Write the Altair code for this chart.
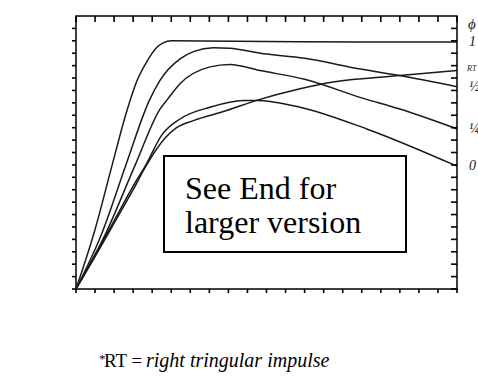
import altair as alt
import pandas as pd

# ---- data ----
phi1_x = [0.0, 0.1, 0.19, 0.266, 0.318, 0.371, 0.42, 0.46, 0.5, 1.0, 1.5, 2.0]
phi1_y = [0.0, 0.48, 1.0, 1.43, 1.67, 1.83, 1.94, 1.985, 2.0, 1.995, 1.99, 1.99]

half_x = [0.0, 0.136, 0.262, 0.385, 0.44, 0.546, 0.62, 0.72, 0.808, 0.966, 1.2, 1.5, 1.7, 2.0]
half_y = [0.0, 0.45, 1.0, 1.52, 1.68, 1.855, 1.915, 1.944, 1.94, 1.90, 1.86, 1.77, 1.72, 1.63]

quarter_x = [0.0, 0.157, 0.311, 0.441, 0.481, 0.546, 0.703, 0.808, 0.966, 1.2, 1.5, 1.7, 2.0]
quarter_y = [0.0, 0.45, 1.0, 1.45, 1.53, 1.654, 1.79, 1.81, 1.76, 1.69, 1.54, 1.45, 1.29]

zero_x = [0.0, 0.1, 0.2, 0.3, 0.367, 0.45, 0.546, 0.703, 0.877, 0.95, 1.176, 1.526, 2.0]
zero_y = [0.0, 0.27, 0.55, 0.83, 1.0, 1.24, 1.37, 1.465, 1.52, 1.52, 1.465, 1.29, 0.99]

rt_x = [0.0, 0.1, 0.2, 0.3, 0.367, 0.47, 0.528, 0.616, 0.791, 0.948, 1.176, 1.35, 1.7, 2.0]
rt_y = [0.0, 0.26, 0.53, 0.8, 0.99, 1.22, 1.30, 1.357, 1.438, 1.52, 1.614, 1.668, 1.72, 1.76]

series_names = ["1", "½", "¼", "0", "RT"]
series_x = [phi1_x, half_x, quarter_x, zero_x, rt_x]
series_y = [phi1_y, half_y, quarter_y, zero_y, rt_y]

x_ticks = [0.0, 0.1, 0.2, 0.3, 0.4, 0.5, 0.6, 0.7, 0.8, 0.9, 1.0,
           1.1, 1.2, 1.3, 1.4, 1.5, 1.6, 1.7, 1.8, 1.9, 2.0]
y_ticks = [0.0, 0.1, 0.2, 0.3, 0.4, 0.5, 0.6, 0.7, 0.8, 0.9, 1.0,
           1.1, 1.2, 1.3, 1.4, 1.5, 1.6, 1.7, 1.8, 1.9, 2.0, 2.1]

# ---- tables ----
rows = []
for name, xs, ys in zip(series_names, series_x, series_y):
    for i, (a, b) in enumerate(zip(xs, ys)):
        rows.append({"series": name, "x": a, "y": b, "order": i})
lines_df = pd.DataFrame(rows)

end_df = pd.DataFrame({
    "series": series_names,
    "x": [xs[-1] for xs in series_x],
    "y": [ys[-1] for ys in series_y],
})
main_lbl = end_df[end_df["series"] != "RT"]
rt_lbl = end_df[end_df["series"] == "RT"]

W, H = 381, 273
FONT = "DejaVu Sans"
INK = "#1a1a1a"

xscale = alt.Scale(domain=[0, 2], nice=False, zero=False)
yscale = alt.Scale(domain=[0, 2.2], nice=False, zero=False)

IS_MAJOR = "abs(datum.value * 2 - round(datum.value * 2)) < 0.001"
LABEL_EXPR = IS_MAJOR + " ? format(datum.value, '.1f') : ''"

xaxis = alt.Axis(orient="bottom", values=x_ticks, labelExpr=LABEL_EXPR,
                 tickSize={"condition": {"test": IS_MAJOR, "value": 5}, "value": 4},
                 labelPadding=4, labelFont=FONT, labelFontSize=12, labelColor="#333",
                 domainColor="black", domainWidth=1.5, tickColor="black", tickWidth=1.4,
                 grid=False, title="θ = tp/Ts", titleFont=FONT, titleFontSize=15,
                 titleFontWeight="normal", titleColor="#333", titleX=177, titleY=34,
                 titleBaseline="top", titleAlign="center", labelOverlap=False)
yaxis = alt.Axis(orient="left", values=y_ticks, labelExpr=LABEL_EXPR,
                 tickSize={"condition": {"test": IS_MAJOR, "value": 7}, "value": 4},
                 labelPadding=1, labelFont=FONT, labelFontSize=12, labelColor="#333",
                 domainColor="black", domainWidth=1.5, tickColor="black", tickWidth=1.4,
                 grid=False, title="Impact Factor IF", titleFont=FONT, titleFontSize=14,
                 titleFontWeight="normal", titleColor="#333", titleX=-51, titleY=140,
                 titleAngle=270, titleAlign="center", titleBaseline="middle",
                 labelOverlap=False)

X = alt.X("x:Q", scale=xscale, axis=xaxis)
Y = alt.Y("y:Q", scale=yscale, axis=yaxis)
Xn = alt.X("x:Q", scale=xscale, axis=None)
Yn = alt.Y("y:Q", scale=yscale, axis=None)

lines = alt.Chart(lines_df).mark_line(strokeWidth=1.5, interpolate="monotone").encode(
    x=X, y=Y,
    color=alt.Color("series:N", scale=alt.Scale(range=[INK]), legend=None),
    order="order:Q",
)

# inward ticks on the top and right frame edges, plus outward minor ticks
ydf = pd.DataFrame({"y": y_ticks})
xdf = pd.DataFrame({"x": x_ticks})
right_ticks = alt.Chart(ydf).mark_rule(color="black", strokeWidth=1.6).encode(
    y=Yn, x=alt.value(W - 6), x2=alt.value(W))
top_ticks = alt.Chart(xdf).mark_rule(color="black", strokeWidth=1.6).encode(
    x=Xn, y=alt.value(0), y2=alt.value(6))
left_ticks = alt.Chart(ydf).mark_rule(color="black", strokeWidth=1.6).encode(
    y=Yn, x=alt.value(-4), x2=alt.value(0))
bottom_ticks = alt.Chart(xdf).mark_rule(color="black", strokeWidth=1.6).encode(
    x=Xn, y=alt.value(H), y2=alt.value(H + 4))

labels = alt.Chart(main_lbl).mark_text(
    align="left", baseline="middle", dx=12, font="Liberation Serif",
    fontStyle="italic", fontSize=14, color=INK).encode(x=Xn, y=Yn, text="series:N")
rt_label = alt.Chart(rt_lbl).mark_text(
    align="left", baseline="middle", dx=10, dy=-2, font="Liberation Serif",
    fontStyle="italic", fontSize=8, color=INK).encode(x=Xn, y=Yn, text="series:N")

one = pd.DataFrame({"a": [0]})
phi_label = alt.Chart(one).mark_text(
    text="ϕ", align="left", baseline="middle", font="Liberation Serif",
    fontStyle="italic", fontSize=15, color=INK).encode(x=alt.value(W + 11), y=alt.value(8))

box = alt.Chart(one).mark_rect(fill="white", stroke="black", strokeWidth=2).encode(
    x=alt.value(88), x2=alt.value(330), y=alt.value(140), y2=alt.value(236))
box_t1 = alt.Chart(one).mark_text(
    text="See End for", align="left", baseline="alphabetic", font="Liberation Serif",
    fontSize=32, color="black").encode(x=alt.value(109), y=alt.value(183))
box_t2 = alt.Chart(one).mark_text(
    text="larger version", align="left", baseline="alphabetic", font="Liberation Serif",
    fontSize=32, color="black").encode(x=alt.value(109), y=alt.value(217))

star = alt.Chart(one).mark_text(
    text="*", align="left", baseline="alphabetic", font="Liberation Serif",
    fontSize=13, color="black").encode(x=alt.value(23), y=alt.value(347))
foot1 = alt.Chart(one).mark_text(
    text="RT =", align="left", baseline="alphabetic", font="Liberation Serif",
    fontSize=19, color="black").encode(x=alt.value(28), y=alt.value(351))
foot2 = alt.Chart(one).mark_text(
    text="right tringular impulse", align="left", baseline="alphabetic",
    font="Liberation Serif", fontStyle="italic", fontSize=20, color="black").encode(
    x=alt.value(70), y=alt.value(351))

chart = alt.layer(
    lines, right_ticks, top_ticks, left_ticks, bottom_ticks,
    labels, rt_label, phi_label, box, box_t1, box_t2, star, foot1, foot2,
).properties(
    width=W, height=H,
    autosize=alt.AutoSizeParams(type="none"),
    padding={"left": 76, "top": 16, "right": 21, "bottom": 90},
    background="white",
).configure_view(stroke="black", strokeWidth=1.5)

chart.save("out.html", embed_options={"renderer": "svg", "actions": False})
